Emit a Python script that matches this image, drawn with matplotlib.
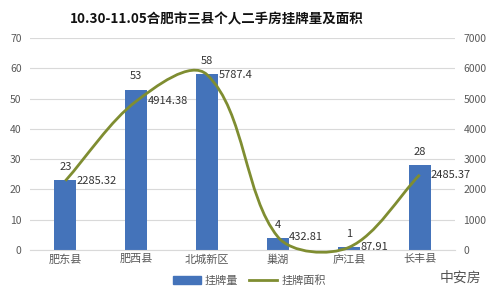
import numpy as np
import matplotlib.pyplot as plt
from matplotlib.path import Path
from matplotlib.patches import PathPatch, Patch
from matplotlib.lines import Line2D

plt.rcParams['font.family'] = ['Noto Sans CJK SC', 'DejaVu Sans']

# data
categories = ['肥东县', '肥西县', '北城新区', '巢湖', '庐江县', '长丰县']
listings = [23, 53, 58, 4, 1, 28]
area = [2285.32, 4914.38, 5787.4, 432.81, 87.91, 2485.37]
area_labels = ['2285.32', '4914.38', '5787.4', '432.81', '87.91', '2485.37']

bar_color = '#4473ba'
line_color = '#7f8d31'
grid_color = '#d9d9d9'
tick_color = '#595959'

fig = plt.figure(figsize=(4.99, 2.97), dpi=100)
ax = fig.add_axes([0.06, 0.158, 0.852, 0.714])
ax2 = ax.twinx()

x = np.arange(len(categories))
ax.bar(x, listings, width=0.31, color=bar_color, zorder=2)
ax.set_ylim(0, 70)
ax.set_yticks(range(0, 71, 10))
ax.set_xlim(-0.5, len(categories) - 0.5)
ax.set_xticks(x)
ax.set_xticklabels(categories, fontsize=8, color=tick_color)
ax.grid(axis='y', color=grid_color, linewidth=0.8, zorder=0)
ax.tick_params(axis='y', length=0, labelsize=7.5, labelcolor=tick_color, pad=6)
ax.tick_params(axis='x', length=0, pad=3)
for s in ['top', 'right', 'left']:
    ax.spines[s].set_visible(False)
ax.spines['bottom'].set_color(grid_color)

for xi, v in zip(x, listings):
    ax.annotate(str(v), (xi, v), xytext=(0, 9.5), textcoords='offset points',
                ha='center', va='center', fontsize=8, color='#333333')

ax2.set_ylim(0, 7000)
ax2.set_yticks(range(0, 7001, 1000))
ax2.tick_params(axis='y', length=0, labelsize=7.5, labelcolor=tick_color, pad=6)
for s in ['top', 'right', 'left', 'bottom']:
    ax2.spines[s].set_visible(False)

# smoothed line, bezier segments computed in screen-like proportions
k = 2344.0  # area units per category width on screen
pts = np.column_stack([x, np.array(area) / k])
n = len(pts)
tangents = []
for i in range(n):
    a = pts[max(i - 1, 0)]
    b = pts[min(i + 1, n - 1)]
    d = b - a
    tangents.append(d / np.linalg.norm(d))
verts = [pts[0]]
codes = [Path.MOVETO]
for i in range(n - 1):
    L = np.linalg.norm(pts[i + 1] - pts[i])
    c1 = pts[i] + tangents[i] * L * 0.3
    c2 = pts[i + 1] - tangents[i + 1] * L * 0.3
    verts += [c1, c2, pts[i + 1]]
    codes += [Path.CURVE4] * 3
verts = np.array(verts)
verts[:, 1] *= k
ax2.add_patch(PathPatch(Path(verts, codes), facecolor='none', edgecolor=line_color,
                        linewidth=2, zorder=3, clip_on=False))

for xi, v, lab in zip(x, area, area_labels):
    ax2.text(xi + 0.16, v, lab, ha='left', va='center', fontsize=8, color='#333333')

fig.text(0.435, 0.935, '10.30-11.05合肥市三县个人二手房挂牌量及面积', ha='center', va='center',
         fontsize=9.7, fontweight='bold', color='#111111')

handles = [Patch(color=bar_color), Line2D([0], [0], color=line_color, linewidth=2)]
fig.legend(handles, ['挂牌量', '挂牌面积'], loc='center', bbox_to_anchor=(0.5, 0.055),
           ncol=2, frameon=False, fontsize=8, handlelength=2.5, columnspacing=1.0,
           handletextpad=0.4, labelcolor=tick_color)

fig.text(0.965, 0.065, '中安房', ha='right', va='center', fontsize=10, color='#555555')

fig.savefig('out.png', dpi=100)
